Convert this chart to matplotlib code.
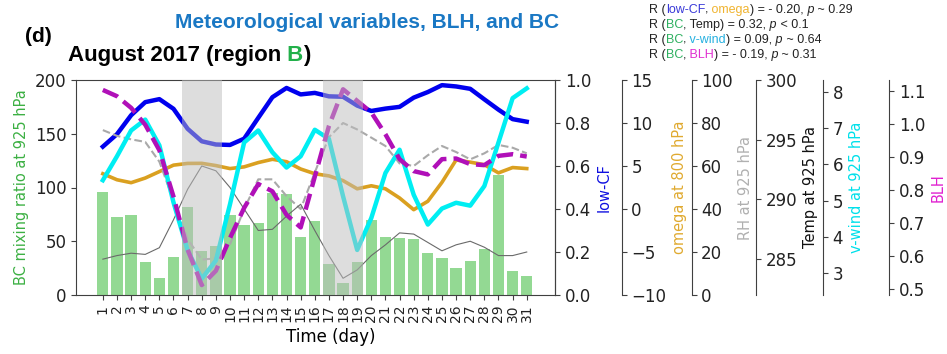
import numpy as np
import matplotlib
matplotlib.use("Agg")
import matplotlib.pyplot as plt

# ---- data (August 2017, region B) ----
days = list(range(1, 32))
bc = [96, 73, 74, 31, 16, 35, 82, 41, 46, 74, 65, 67, 95, 94, 54, 69,
      28.5, 11.5, 31, 70, 54, 53, 52, 39.5, 34.5, 25.5, 31.5, 43, 112, 22, 18]
low_cf = [0.69, 0.748, 0.836, 0.897, 0.911, 0.866, 0.773, 0.715, 0.70, 0.698,
          0.727, 0.824, 0.92, 0.963, 0.933, 0.94, 0.924, 0.922, 0.881, 0.856,
          0.867, 0.875, 0.918, 0.944, 0.976, 0.97, 0.959, 0.91, 0.862, 0.818, 0.806]
omega = [4.1, 3.4, 3.06, 3.6, 4.35, 5.1, 5.3, 5.31, 5.05, 4.7, 4.9, 5.4, 5.78,
         5.5, 4.65, 4.1, 3.85, 3.3, 2.35, 2.7, 2.35, 1.28, -0.08, 0.9, 3.1,
         5.7, 5.45, 5.15, 4.2, 4.82, 4.7]
rh = [76.7, 74, 72.4, 71.2, 62, 44, 26, 16.5, 17, 23.6, 40, 53.8, 53.8, 46,
      40, 57, 73.4, 80, 77, 73.2, 69.3, 61.2, 60, 65, 69.3, 66.5, 63.1, 65.9,
      69.8, 68.5, 65.9]
temp = [285.0, 285.3, 285.5, 285.4, 285.96, 288.3, 290.85, 292.8, 292.4, 291.0,
        289.2, 287.4, 287.5, 288.6, 289.6, 287.4, 285.3, 283.4, 284.1, 285.3,
        286.2, 287.2, 287.1, 286.4, 285.7, 286.2, 286.5, 286.0, 285.3, 285.3, 285.6]
vwind = [5.56, 6.22, 6.93, 7.23, 6.52, 4.95, 3.63, 2.85, 3.35, 4.9, 6.6, 6.93,
         6.33, 5.91, 6.22, 6.95, 6.7, 5.12, 3.64, 4.52, 5.76, 6.4, 5.16, 4.34,
         4.78, 4.94, 4.86, 5.4, 6.6, 7.82, 8.09]
blh = [1.102, 1.083, 1.048, 0.997, 0.92, 0.78, 0.62, 0.513, 0.556, 0.655,
       0.746, 0.818, 0.796, 0.725, 0.687, 0.84, 0.993, 1.104, 1.069, 1.034,
       0.968, 0.893, 0.857, 0.847, 0.893, 0.895, 0.878, 0.875, 0.903, 0.908, 0.901]
shaded_periods = [(7, 9), (17, 19)]

SPINE = "#404040"
plt.rcParams["axes.edgecolor"] = SPINE
plt.rcParams["xtick.color"] = SPINE
plt.rcParams["ytick.color"] = SPINE
plt.rcParams["xtick.labelcolor"] = "#222222"
plt.rcParams["ytick.labelcolor"] = "#222222"

fig = plt.figure(figsize=(9.47, 3.54), dpi=100)
W, H = 947.0, 354.0
ax = fig.add_axes([76 / W, 59 / H, 479 / W, 215 / H])

ax.bar(days, bc, width=0.8, color="#93d993", zorder=1)
ax.set_xlim(-0.9, 33)
ax.set_ylim(0, 200)
ax.set_yticks([0, 50, 100, 150, 200])
ax.set_xticks(days)
ax.set_xticklabels([str(d) for d in days], rotation=90, fontsize=10)
ax.tick_params(axis="y", labelsize=12)
ax.set_ylabel("BC mixing ratio at 925 hPa", color="#3cb043", fontsize=10.5)
ax.set_xlabel("Time (day)", fontsize=12, x=0.532)

series = [
    # values, ylim, ticks, line style kwargs, label, label colour, spine pos
    (low_cf, (0, 1), [0.0, 0.2, 0.4, 0.6, 0.8, 1.0],
     dict(color="#0000ee", lw=3.2, ls="-"), "low-CF", "#1010e0", 1.0),
    (omega, (-10, 15), [-10, -5, 0, 5, 10, 15],
     dict(color="#daa020", lw=2.6, ls="-"), "omega at 800 hPa", "#e0aa30", 1.139),
    (rh, (0, 100), [0, 20, 40, 60, 80, 100],
     dict(color="#a9a9a9", lw=1.5, ls="--"), "RH at 925 hPa", "#b0b0b0", 1.285),
    (temp, (282, 300), [285, 290, 295, 300],
     dict(color="#6a6a6a", lw=0.8, ls="-"), "Temp at 925 hPa", "#111111", 1.4196),
    (vwind, (2.4, 8.32), [3, 4, 5, 6, 7, 8],
     dict(color="#00eef2", lw=3.2, ls="-"), "v-wind at 925 hPa", "#00e0ea", 1.559),
    (blh, (0.483, 1.132), [0.5, 0.6, 0.7, 0.8, 0.9, 1.0, 1.1],
     dict(color="#b010b8", lw=3.2, ls="--"), "BLH", "#e020d0", 1.698),
]

twins = []
for vals, ylim, ticks, style, label, lcolor, pos in series:
    t = ax.twinx()
    t.spines["right"].set_position(("axes", pos))
    for s in ("top", "left", "bottom"):
        t.spines[s].set_visible(False)
    t.plot(days, vals, **style)
    t.set_ylim(*ylim)
    t.set_yticks(ticks)
    t.tick_params(axis="y", labelsize=12)
    t.set_ylabel(label, color=lcolor, fontsize=10.5)
    twins.append(t)

# shaded periods drawn over everything
top = twins[-1]
for a, b in shaded_periods:
    top.axvspan(a - 0.4, b + 0.4, color="#bdbdbd", alpha=0.5, lw=0, zorder=10)
top.set_xlim(-0.9, 33)


def colored_line(x, y, parts, size, weight="normal"):
    """Draw text pieces one after another starting at figure pixel (x, y)."""
    renderer = fig.canvas.get_renderer()
    for text, color, style in parts:
        t = fig.text(x / W, 1 - y / H, text, color=color, fontsize=size,
                     fontweight=weight, fontstyle=style,
                     family="Liberation Sans", va="baseline", ha="left")
        x += t.get_window_extent(renderer).width


fig.text(38 / W, 1 - 37 / H, "(d)", fontsize=15, fontweight="bold",
         family="Liberation Sans", ha="center", va="center")
fig.text(175 / W, 1 - 28 / H, "Meteorological variables, BLH, and BC",
         fontsize=15, fontweight="bold", family="Liberation Sans",
         color="#1a78c4", va="baseline", ha="left")
colored_line(68, 61, [("August 2017 (region", "black", "normal"),
                      (" B", "#22b04a", "normal"),
                      (")", "black", "normal")], 16, weight="bold")

BLUE, GOLD, GREEN, SKY, PINK = "#3a3ad8", "#f0b430", "#2eb060", "#25b0e0", "#e030d0"
K = "#222222"
stats = [
    [("R (", K, "normal"), ("low-CF", BLUE, "normal"), (",", K, "normal"),
     (" omega", GOLD, "normal"), (") = - 0.20,", K, "normal"),
     (" p", K, "italic"), (" ~ 0.29", K, "normal")],
    [("R (", K, "normal"), ("BC", GREEN, "normal"), (", Temp) = 0.32,", K, "normal"),
     (" p", K, "italic"), (" < 0.1", K, "normal")],
    [("R (", K, "normal"), ("BC", GREEN, "normal"), (",", K, "normal"),
     (" v-wind", SKY, "normal"), (") = 0.09,", K, "normal"),
     (" p", K, "italic"), (" ~ 0.64", K, "normal")],
    [("R (", K, "normal"), ("BC", GREEN, "normal"), (",", K, "normal"),
     (" BLH", PINK, "normal"), (") = - 0.19,", K, "normal"),
     (" p", K, "italic"), (" ~ 0.31", K, "normal")],
]
for i, parts in enumerate(stats):
    colored_line(649, 13 + 15 * i, parts, 9)

fig.savefig("out.png", dpi=100)
